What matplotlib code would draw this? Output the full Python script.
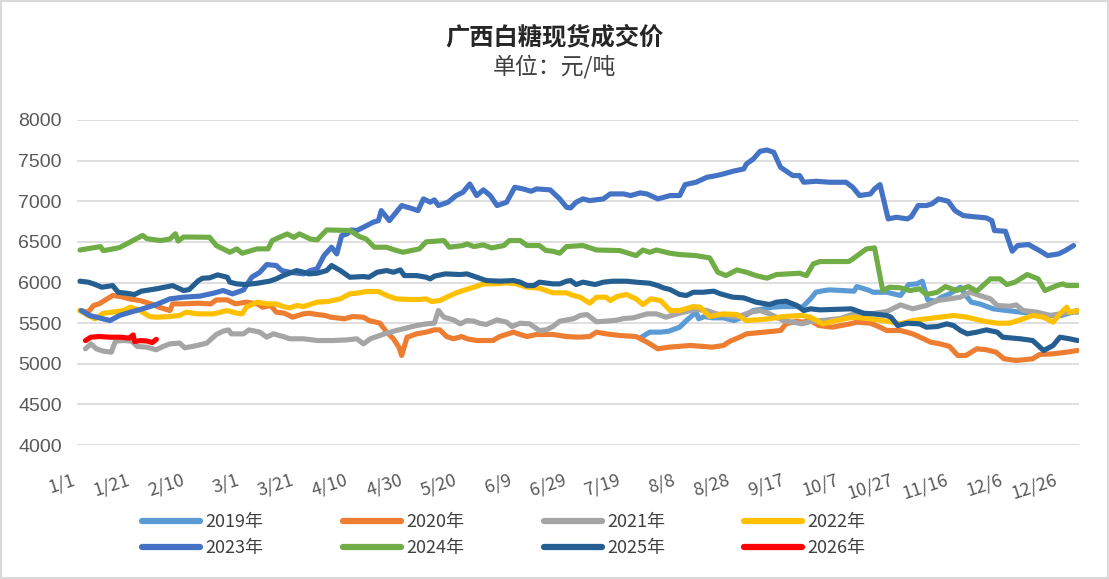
import matplotlib
matplotlib.use('Agg')
import matplotlib.pyplot as plt
from matplotlib.patches import Rectangle
from matplotlib.transforms import ScaledTranslation

plt.rcParams['font.family'] = ['Noto Sans CJK SC', 'DejaVu Sans']

# day-of-year positions (leap-year axis, 0 = 1/1) and prices
d19 = [206, 209, 213, 216, 220, 222.5, 226, 227, 229, 232, 236, 240, 243, 247, 251, 254, 258, 263, 265, 268,
       270, 273, 275, 284, 285, 289, 291, 296, 301, 304, 307, 309, 311, 314, 316, 319, 323, 325, 327, 330,
       335, 340, 345, 350, 355, 360, 362, 366]
v19 = [5327, 5389, 5389, 5401, 5450, 5532, 5635, 5553, 5581, 5565, 5565, 5532, 5573, 5655, 5676, 5696, 5704, 5704, 5696, 5799,
       5881, 5901, 5909, 5893, 5950, 5909, 5880, 5880, 5840, 5975, 5983, 6016, 5786, 5770, 5819, 5860, 5942, 5840, 5758, 5737,
       5676, 5655, 5635, 5622, 5594, 5594, 5614, 5655]

d20 = [0, 3, 5, 7, 12, 15, 18, 22, 26, 29, 33, 34, 38, 43, 48, 50, 54, 57, 61, 65,
       67, 70, 72, 75, 78, 82, 84, 87, 90, 92, 97, 100, 104, 106, 110, 112.5, 115, 117, 118, 120,
       123.5, 127, 130, 132, 134.5, 137, 140, 142, 145.5, 151.5, 154, 159, 161.5, 164, 167.5, 173.5, 178.5, 183, 187, 189.5,
       193, 198, 204, 208, 212, 216, 224, 232, 236, 238.5, 242, 244.5, 251, 257, 259, 263, 265, 268, 271, 276,
       282.5, 285, 290, 293.5, 296, 301, 305.5, 309.5, 312, 315.5, 319, 322, 325, 329, 332.5, 336, 339, 343.5, 349.5, 352,
       357, 362, 366]
v20 = [5655, 5635, 5717, 5737, 5840, 5827, 5799, 5778, 5737, 5696, 5655, 5737, 5737, 5745, 5737, 5786, 5786, 5737, 5758, 5737,
       5696, 5717, 5635, 5622, 5573, 5614, 5622, 5606, 5594, 5573, 5553, 5581, 5573, 5532, 5500, 5389, 5307, 5204, 5102, 5327,
       5368, 5389, 5417, 5417, 5335, 5307, 5335, 5307, 5286, 5286, 5335, 5389, 5360, 5335, 5360, 5360, 5335, 5327, 5335, 5389,
       5368, 5348, 5335, 5266, 5184, 5204, 5225, 5204, 5225, 5278, 5327, 5368, 5389, 5409, 5491, 5524, 5512, 5532, 5471, 5450,
       5491, 5512, 5499, 5450, 5409, 5409, 5368, 5307, 5266, 5245, 5213, 5102, 5102, 5184, 5172, 5143, 5061, 5040, 5061, 5114,
       5122, 5143, 5163]

d21 = [2, 4, 6, 8.5, 11.5, 13, 16, 19, 21, 24.5, 28, 30.5, 33, 36.5, 38.5, 43, 46.5, 50, 52.5, 54.5,
       55.5, 60, 62, 66, 68.5, 71, 74.5, 77, 82, 87, 93, 98, 101.5, 104, 106.5, 110, 112.5, 116, 120, 123.5,
       127, 130, 131.5, 133.5, 137, 139.5, 142, 144.5, 146.5, 149, 153, 156.5, 158.5, 161.5, 165, 168.5, 171, 173.5, 176, 181,
       183.5, 186, 189.5, 193, 197, 199.5, 203, 208, 211.5, 215, 219, 224, 226, 230, 233.5, 237, 241, 246, 249.5, 253,
       258, 261.5, 265, 268, 273, 279, 284, 290, 296, 301, 305.5, 310.5, 314.5, 319, 323, 326.5, 330, 334, 336.5, 341,
       343.5, 346, 351, 356, 359.5, 363, 366]
v21 = [5184, 5245, 5184, 5155, 5143, 5278, 5286, 5278, 5213, 5204, 5172, 5213, 5245, 5254, 5196, 5225, 5254, 5360, 5401, 5417,
       5368, 5368, 5417, 5389, 5327, 5368, 5335, 5307, 5307, 5286, 5286, 5294, 5307, 5245, 5307, 5348, 5376, 5409, 5442, 5471,
       5491, 5499, 5655, 5573, 5540, 5491, 5532, 5524, 5499, 5483, 5540, 5512, 5458, 5499, 5491, 5409, 5417, 5458, 5524, 5553,
       5594, 5606, 5516, 5524, 5537, 5557, 5565, 5614, 5614, 5573, 5614, 5655, 5667, 5655, 5614, 5594, 5573, 5635, 5655, 5614,
       5532, 5512, 5491, 5520, 5535, 5557, 5614, 5614, 5643, 5724, 5676, 5717, 5778, 5799, 5819, 5881, 5840, 5799, 5717, 5708,
       5724, 5655, 5635, 5594, 5614, 5635, 5635]

d22 = [0, 3, 5.5, 8.5, 12, 16, 18.5, 22, 25.5, 28, 33, 36.5, 39, 43, 49, 54, 57.5, 59.5, 61, 65,
       68.5, 72, 74.5, 77, 79.5, 82, 87, 91, 95.5, 99, 102.5, 105, 109.5, 112.5, 116, 121, 124.5, 127, 129, 132,
       134.5, 138, 140.5, 144.5, 148, 151.5, 156.5, 160, 164, 168.5, 173.5, 178.5, 181, 183.5, 187, 189.5, 193, 194.5, 197, 200.5,
       204, 206.5, 209.5, 213, 216.5, 220, 225, 227.5, 231, 236, 241, 244.5, 248, 253, 258, 265, 268, 272.5, 277.5, 283.5,
       290, 296, 301, 305.5, 310.5, 315.5, 320.5, 325.5, 331.5, 336.5, 341, 346, 349.5, 353.5, 357, 359.5, 362, 363, 366]
v22 = [5655, 5594, 5553, 5622, 5635, 5655, 5696, 5655, 5581, 5573, 5581, 5594, 5635, 5614, 5614, 5655, 5622, 5614, 5696, 5758,
       5737, 5737, 5704, 5688, 5717, 5704, 5758, 5766, 5799, 5860, 5873, 5889, 5889, 5840, 5799, 5791, 5791, 5799, 5766, 5778,
       5819, 5873, 5901, 5942, 5983, 5983, 5995, 5983, 5942, 5930, 5873, 5873, 5840, 5819, 5745, 5819, 5819, 5778, 5827, 5852,
       5799, 5729, 5799, 5778, 5655, 5655, 5704, 5696, 5581, 5614, 5606, 5532, 5540, 5553, 5581, 5594, 5573, 5491, 5532, 5573,
       5553, 5524, 5491, 5532, 5553, 5573, 5594, 5573, 5524, 5499, 5499, 5553, 5594, 5573, 5512, 5614, 5696, 5635, 5655]

d23 = [0.5, 3.5, 7, 11, 14.5, 18.5, 23, 28, 33, 38, 44, 49, 52.5, 56, 60, 63, 66, 68.5, 72, 74,
       77, 82, 84.5, 87, 89.5, 92.3, 94.2, 96, 98, 99.5, 101.5, 104, 107.5, 109.5, 110.5, 113.5, 116, 118, 121, 124,
       126, 128.5, 130, 131.5, 135, 138, 140.5, 143, 145.5, 148, 150.5, 153, 156.5, 159.5, 162.5, 165.5, 167.5, 172.5, 176, 178.5,
       180, 182, 184.5, 187, 192, 194.5, 199.5, 202, 205.5, 208, 212, 216.5, 220, 222, 226, 230, 233.5, 236, 239.5, 243.5,
       244.5, 247, 249.5, 252, 254.5, 257, 261.5, 264, 265.5, 270, 275, 281, 283.5, 286, 290, 291.5, 293.5, 296.5, 299.5, 303.5,
       305, 307.5, 310.5, 312.5, 315, 318.5, 321, 324, 327.5, 332.5, 334.5, 335.5, 339.5, 342, 344, 348, 352, 355, 359, 361.5,
       364.5]
v23 = [5655, 5594, 5565, 5532, 5594, 5635, 5676, 5729, 5799, 5819, 5832, 5869, 5901, 5860, 5909, 6065, 6126, 6221, 6209, 6147,
       6126, 6106, 6147, 6168, 6331, 6434, 6352, 6578, 6598, 6647, 6639, 6680, 6741, 6762, 6885, 6762, 6865, 6947, 6918, 6885,
       7029, 6988, 7017, 6947, 6988, 7070, 7111, 7213, 7070, 7140, 7070, 6947, 6988, 7172, 7152, 7123, 7152, 7140, 7029, 6926,
       6918, 6988, 7029, 7008, 7029, 7090, 7090, 7070, 7103, 7090, 7029, 7070, 7070, 7205, 7234, 7295, 7316, 7336, 7369, 7398,
       7459, 7520, 7615, 7631, 7603, 7418, 7316, 7316, 7234, 7246, 7234, 7234, 7172, 7070, 7090, 7152, 7205, 6783, 6803, 6783,
       6811, 6947, 6947, 6967, 7029, 7000, 6885, 6824, 6811, 6795, 6762, 6639, 6631, 6385, 6455, 6467, 6393, 6331, 6352, 6393,
       6455]

d24 = [0, 7.5, 8.5, 10, 14.5, 18.5, 23, 24.5, 29.5, 33, 35, 36, 38, 47.5, 50, 55, 57.5, 59.5, 65, 69,
       70.5, 76, 78.5, 80.5, 84.5, 87, 90.5, 99, 102.5, 105, 108, 112.5, 115, 118.5, 124.5, 127, 133.5, 135.5, 140.5, 142,
       144.5, 148, 151, 155.5, 157.5, 161.5, 164, 168.5, 171, 173.5, 176, 178.5, 184.5, 189.5, 198, 204, 206.5, 209, 211.5, 216.5,
       220, 226, 231, 234, 237, 241, 244.5, 248, 252, 255.5, 264, 266.5, 269, 271.5, 282, 283.5, 288.5, 291.5, 294.5, 297,
       301, 304.5, 308, 310.5, 314.5, 317.5, 321.5, 326, 329, 334, 337.5, 340, 343, 347.5, 351.5, 354, 358.5, 360.5, 362, 366]
v24 = [6400, 6442, 6393, 6400, 6430, 6500, 6580, 6540, 6516, 6535, 6600, 6510, 6560, 6557, 6455, 6372, 6414, 6360, 6414, 6414,
       6516, 6598, 6555, 6598, 6535, 6524, 6647, 6640, 6565, 6535, 6434, 6434, 6405, 6372, 6414, 6500, 6516, 6434, 6455, 6475,
       6442, 6463, 6425, 6455, 6516, 6516, 6455, 6455, 6393, 6385, 6360, 6442, 6455, 6400, 6393, 6331, 6400, 6372, 6400, 6360,
       6344, 6331, 6303, 6126, 6085, 6155, 6126, 6085, 6053, 6098, 6114, 6085, 6229, 6258, 6258, 6290, 6413, 6426, 5901, 5942,
       5934, 5901, 5922, 5852, 5880, 5950, 5901, 5950, 5893, 6045, 6045, 5975, 6004, 6098, 6045, 5901, 5963, 5983, 5963, 5963]

d25 = [0, 3, 5, 8, 12, 14, 17, 20, 22.5, 28, 34, 38, 40, 43.5, 45, 47.5, 50.5, 54, 55, 57.5,
       61, 65, 69.5, 72, 74.5, 79.5, 82, 84, 87, 90.5, 92.3, 95.5, 99, 104, 106, 109, 112.5, 115, 117.5, 119,
       123.5, 127, 128.5, 130, 134, 139.5, 142, 145.5, 149, 154, 159, 161.5, 164, 166.5, 168.5, 173.5, 176, 178.5, 180, 182,
       184.5, 189, 192, 195.5, 200.5, 204, 209, 212, 214, 216.5, 220, 222.5, 225, 228.5, 232.5, 235, 239.5, 243.5, 248, 253,
       255.5, 259, 263, 265.5, 268, 271.5, 283, 287.5, 291, 296, 297.5, 300, 303.5, 308, 310.5, 314.5, 318, 320.5, 323, 325.5,
       329, 332.5, 336.5, 338.5, 345, 349.5, 353.5, 357, 359.5, 363, 366]
v25 = [6016, 6004, 5983, 5942, 5962, 5880, 5868, 5852, 5893, 5922, 5962, 5901, 5913, 6024, 6053, 6057, 6094, 6065, 6004, 5983,
       5975, 5991, 6016, 6045, 6085, 6147, 6126, 6106, 6114, 6147, 6209, 6147, 6065, 6073, 6065, 6126, 6147, 6126, 6155, 6085,
       6085, 6065, 6045, 6078, 6106, 6098, 6106, 6065, 6024, 6016, 6024, 6004, 5962, 5962, 6004, 5983, 5983, 6016, 6024, 5975,
       6004, 5975, 6004, 6016, 6016, 6004, 5991, 5962, 5934, 5913, 5852, 5840, 5880, 5880, 5893, 5860, 5819, 5811, 5758, 5729,
       5758, 5770, 5717, 5655, 5676, 5663, 5676, 5622, 5614, 5594, 5573, 5470, 5499, 5491, 5450, 5458, 5491, 5470, 5409, 5368,
       5389, 5417, 5389, 5327, 5307, 5286, 5163, 5225, 5327, 5307, 5286]

d26 = [2, 4, 7, 11, 15, 18, 19.5, 20, 22, 24.5, 26.5, 28]
v26 = [5285, 5327, 5335, 5327, 5327, 5315, 5355, 5273, 5285, 5280, 5261, 5300]

series = [
    ('2019年', d19, v19, '#5B9BD5'),
    ('2020年', d20, v20, '#ED7D31'),
    ('2021年', d21, v21, '#A5A5A5'),
    ('2022年', d22, v22, '#FFC000'),
    ('2023年', d23, v23, '#4472C4'),
    ('2024年', d24, v24, '#70AD47'),
    ('2025年', d25, v25, '#255E91'),
    ('2026年', d26, v26, '#FF0000'),
]

tick_days = list(range(0, 361, 20))
tick_labels = ['1/1', '1/21', '2/10', '3/1', '3/21', '4/10', '4/30', '5/20', '6/9', '6/29',
               '7/19', '8/8', '8/28', '9/17', '10/7', '10/27', '11/16', '12/6', '12/26']

fig = plt.figure(figsize=(11.09, 5.79), dpi=100)
ax = fig.add_axes([77 / 1109, 1 - 445 / 579, 1002 / 1109, 325 / 579])

handles = {}
for name, d, v, c in series:
    ln, = ax.plot(d, v, color=c, lw=3.7, solid_joinstyle='round', solid_capstyle='round', label=name)
    handles[name] = ln

ax.set_xlim(-1.1, 366.5)
ax.set_ylim(4000, 8000)
ax.set_yticks(range(4000, 8001, 500))
ax.grid(axis='y', color='#D9D9D9', lw=1.2)
ax.set_axisbelow(True)
for s in ax.spines.values():
    s.set_visible(False)
ax.tick_params(axis='both', length=0, colors='#595959')
ax.tick_params(axis='y', pad=11)
for lab in ax.get_yticklabels():
    lab.set_fontfamily('Liberation Sans')
    lab.set_fontsize(14)

ax.set_xticks(tick_days)
ax.set_xticklabels(tick_labels, rotation=18, ha='right', va='center', rotation_mode='anchor', fontsize=13)
ax.tick_params(axis='x', pad=25)
shift = ScaledTranslation(-5 / 100, 0, fig.dpi_scale_trans)
for lab in ax.get_xticklabels():
    lab.set_transform(lab.get_transform() + shift)

fig.text(0.5, 1 - 37 / 579, '广西白糖现货成交价', ha='center', va='center', fontsize=17.5,
         fontweight='bold', color='#262626')
fig.text(0.5, 1 - 67 / 579, '单位：元/吨', ha='center', va='center', fontsize=16.5, color='#404040')

order = ['2019年', '2023年', '2020年', '2024年', '2021年', '2025年', '2022年', '2026年']
leg = fig.legend([handles[k] for k in order], order, loc='center', ncol=4,
                 bbox_to_anchor=(504 / 1109, 1 - 535 / 579), frameon=False, fontsize=13,
                 handlelength=3.2, handletextpad=0.3, columnspacing=4.4, labelspacing=0.45)
for t in leg.get_texts():
    t.set_color('#404040')
for l in leg.get_lines():
    l.set_linewidth(4.5)

fig.patches.append(Rectangle((0.001, 0.001), 0.998, 0.997, transform=fig.transFigure,
                             fill=False, edgecolor='#D9D9D9', lw=1.5))

fig.savefig('out.png', dpi=100)
